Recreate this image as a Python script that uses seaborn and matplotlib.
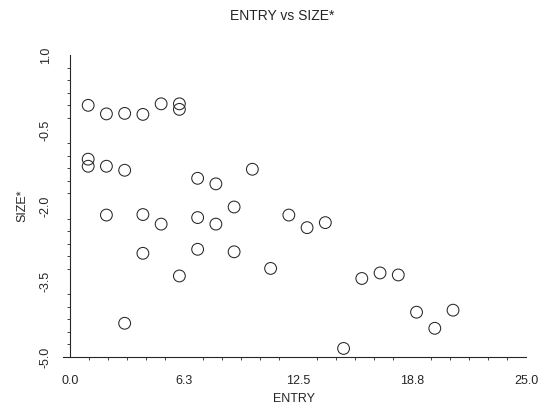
import numpy as np
import pandas as pd
import matplotlib
matplotlib.use("Agg")
import matplotlib.pyplot as plt
import seaborn as sns
from matplotlib.ticker import FixedLocator, MultipleLocator

entry = [1, 1, 1, 2, 2, 2, 3, 3, 3, 4, 4, 4, 5, 5, 6, 6, 6,
         7, 7, 7, 8, 8, 9, 9, 10, 11, 12, 13, 14, 15, 16, 17, 18, 19, 20, 21]
size = [0.0, -1.07, -1.21, -0.17, -1.21, -2.18, -0.16, -1.29, -4.33,
        -0.18, -2.17, -2.94, 0.03, -2.36, 0.03, -0.08, -3.39,
        -1.45, -2.23, -2.86, -1.56, -2.36, -2.02, -2.91, -1.27, -3.24,
        -2.18, -2.43, -2.33, -4.83, -3.44, -3.33, -3.37, -4.11, -4.43, -4.07]

x_ticks = [0.0, 6.25, 12.5, 18.75, 25.0]
x_tick_labels = ["0.0", "6.3", "12.5", "18.8", "25.0"]
y_ticks = [1.0, -0.5, -2.0, -3.5, -5.0]
y_tick_labels = ["1.0", "-0.5", "-2.0", "-3.5", "-5.0"]

df = pd.DataFrame({"ENTRY": entry, "SIZE*": size})

sns.set_style("white")
plt.rcParams["font.family"] = ["Liberation Sans", "DejaVu Sans"]

fig = plt.figure(figsize=(5.56, 4.12), dpi=100)
ax = fig.add_axes([63 / 556, 1 - 357 / 412, (526 - 63) / 556, (357 - 55) / 412])

ink = "#262626"
sns.scatterplot(data=df, x="ENTRY", y="SIZE*", ax=ax, marker="o", s=72,
                linewidth=0.75, legend=False)
for coll in ax.collections:
    coll.set_facecolor("none")
    coll.set_edgecolor(ink)

ax.set_xlim(-0.38, 25.0)
ax.set_ylim(-5.0, 1.0)
ax.spines["left"].set_position(("data", 0))
for s in ["top", "right"]:
    ax.spines[s].set_visible(False)
for s in ["left", "bottom"]:
    ax.spines[s].set_color(ink)
    ax.spines[s].set_linewidth(0.8)
ax.spines["bottom"].set_bounds(-0.38, 25.0)

ax.xaxis.set_major_locator(FixedLocator(x_ticks))
ax.set_xticklabels(x_tick_labels)
ax.xaxis.set_minor_locator(MultipleLocator(6.25 / 6))
ax.yaxis.set_major_locator(FixedLocator(y_ticks))
ax.set_yticklabels(y_tick_labels, rotation=90, va="center")
ax.yaxis.set_minor_locator(MultipleLocator(0.25))

ax.tick_params(axis="both", which="major", length=4, width=0.7, color=ink,
               labelsize=9, labelcolor=ink, direction="out")
ax.tick_params(axis="both", which="minor", length=2, width=0.6, color=ink,
               direction="out", bottom=True, left=True)
ax.tick_params(axis="y", which="major", pad=9)
ax.tick_params(axis="x", which="major", pad=9)

ax.set_xlabel("ENTRY", fontsize=9, color=ink, labelpad=4)
ax.set_ylabel("SIZE*", fontsize=9, color=ink, labelpad=8)
fig.suptitle("ENTRY vs SIZE*", fontsize=10, color=ink, x=0.5 + 4 / 556, y=1 - 9 / 412, va="top")

fig.savefig("out.png", dpi=100, facecolor="white")
